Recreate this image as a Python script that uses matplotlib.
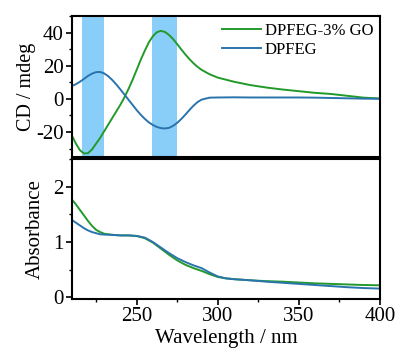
import matplotlib
matplotlib.use("Agg")
import matplotlib.pyplot as plt
from matplotlib.ticker import MultipleLocator

plt.rcParams["font.family"] = ["Liberation Serif", "DejaVu Serif"]
plt.rcParams["axes.unicode_minus"] = False

# CD spectra (mdeg)
wl_cd = [210, 212.5, 215, 217.5, 220, 222.5, 225, 227.5, 230, 232.5, 235, 237.5,
         240, 242.5, 245, 247.5, 250, 252.5, 255, 257.5, 260, 262.5, 265, 267.5,
         270, 272.5, 275, 277.5, 280, 282.5, 285, 287.5, 290, 295, 300, 310, 320,
         330, 340, 350, 360, 370, 380, 390, 400]
cd_go = [-22, -27, -31, -33, -32.8, -30.5, -27, -23.5, -19.5, -15.5, -11.5, -7.5,
         -3.5, 1, 6, 11.5, 17.5, 23.5, 29, 34, 37.8, 40.2, 41, 40.3,
         38.5, 36, 33, 29.8, 26.8, 24, 21.5, 19.3, 17.5, 14.8, 12.8, 10.3, 8.3,
         6.8, 5.6, 4.6, 3.6, 2.9, 1.8, 0.7, 0.2]
cd_pure = [7.7, 8.8, 10.3, 12, 13.8, 15.2, 16.1, 16.2, 15.3, 13.6, 11.3, 8.6,
           5.6, 2.5, -0.6, -3.7, -6.8, -9.6, -12.1, -14.2, -15.8, -17, -17.7, -17.9,
           -17.5, -16.3, -14.5, -12.2, -9.6, -6.8, -4.2, -2, -0.5, 0.7, 0.8, 0.9, 0.8,
           0.8, 0.8, 0.8, 0.7, 0.5, 0.3, 0.1, 0.0]

# absorbance spectra
wl_abs = [210, 212.5, 215, 217.5, 220, 222.5, 225, 227.5, 230, 235, 240, 245, 250,
          255, 260, 265, 270, 275, 280, 285, 290, 295, 300, 305, 310, 320, 330,
          340, 350, 360, 370, 380, 390, 400]
abs_go = [1.77, 1.68, 1.58, 1.48, 1.38, 1.29, 1.22, 1.18, 1.15, 1.13, 1.12, 1.12, 1.11,
          1.07, 0.99, 0.88, 0.77, 0.67, 0.59, 0.53, 0.48, 0.42, 0.37, 0.345, 0.33, 0.31, 0.295,
          0.285, 0.27, 0.255, 0.245, 0.235, 0.225, 0.22]
abs_pure = [1.40, 1.35, 1.30, 1.25, 1.21, 1.18, 1.16, 1.14, 1.135, 1.13, 1.12, 1.12, 1.11,
            1.08, 1.00, 0.90, 0.80, 0.71, 0.64, 0.58, 0.53, 0.45, 0.38, 0.345, 0.33, 0.31, 0.285,
            0.265, 0.245, 0.225, 0.205, 0.185, 0.17, 0.16]

bands = [(216, 230), (259.5, 275)]

green = "#229a2a"
blue = "#2a74ad"

fig = plt.figure(figsize=(3.99, 3.54), dpi=100)
ax1 = fig.add_axes([0.180, 0.557, 0.772, 0.398])
ax2 = fig.add_axes([0.180, 0.155, 0.772, 0.396])

for lo, hi in bands:
    ax1.axvspan(lo, hi, color="#88cef8", lw=0, zorder=0)
ax1.plot(wl_cd, cd_go, color=green, lw=1.4, label="DPFEG-3% GO")
ax1.plot(wl_cd, cd_pure, color=blue, lw=1.4, label="DPFEG")
ax1.set_xlim(210, 400)
ax1.set_ylim(-35, 50)
ax1.yaxis.set_major_locator(MultipleLocator(20))
ax1.yaxis.set_minor_locator(MultipleLocator(10))
ax1.set_xticks([])
ax1.set_ylabel("CD / mdeg", fontsize=14.5)
ax1.yaxis.set_label_coords(-0.115, 0.5)
ax1.legend(loc="upper right", frameon=False, fontsize=12, handlelength=2.3,
           handletextpad=0.25, labelspacing=0.2, borderaxespad=0.1, borderpad=0.3)

ax2.plot(wl_abs, abs_go, color=green, lw=1.4)
ax2.plot(wl_abs, abs_pure, color=blue, lw=1.4)
ax2.set_xlim(210, 400)
ax2.set_ylim(-0.03, 2.5)
ax2.yaxis.set_major_locator(MultipleLocator(1))
ax2.yaxis.set_minor_locator(MultipleLocator(0.5))
ax2.xaxis.set_major_locator(MultipleLocator(50))
ax2.xaxis.set_minor_locator(MultipleLocator(25))
ax2.set_ylabel("Absorbance", fontsize=15)
ax2.yaxis.set_label_coords(-0.088, 0.5)
ax2.set_xlabel("Wavelength / nm", fontsize=15, labelpad=2)

for ax in (ax1, ax2):
    for s in ax.spines.values():
        s.set_linewidth(1.5)
    ax.tick_params(which="major", direction="out", length=4, width=1.2, labelsize=15, pad=2)
    ax.tick_params(which="minor", direction="out", length=2.5, width=1.0)
    ax.tick_params(axis="x", which="both", top=False)
    ax.tick_params(axis="y", which="both", right=False)

fig.savefig("out.png", dpi=100)
